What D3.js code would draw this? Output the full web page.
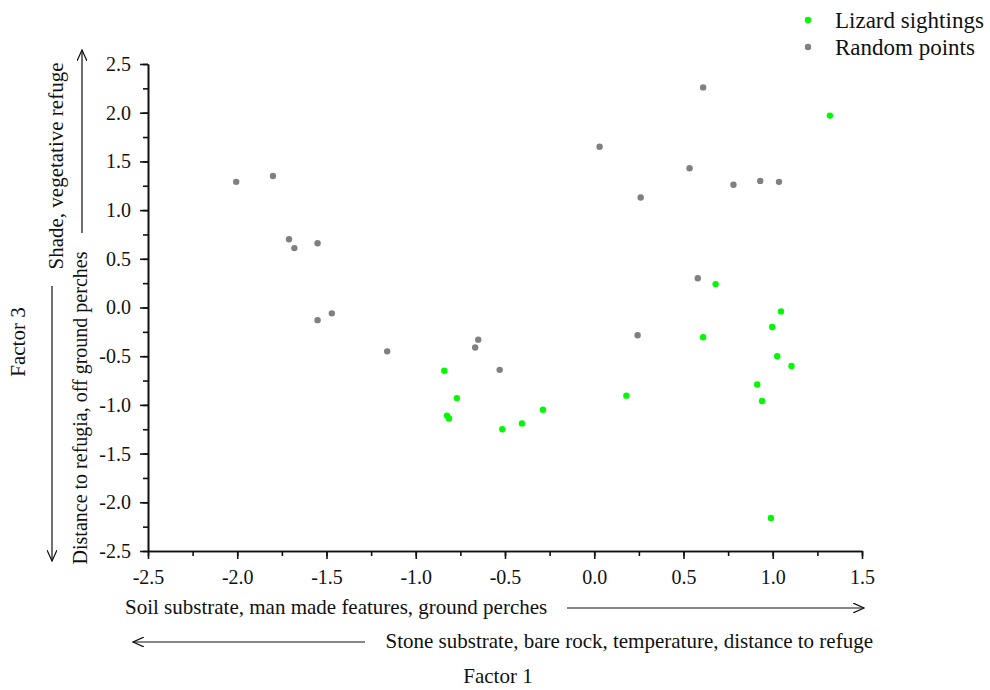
<!DOCTYPE html>
<meta charset="utf-8">
<style>
body { margin: 0; background: #fff; }
text { font-family: "Liberation Serif", "Times New Roman", serif; fill: #111; }
.axis path, .axis line { stroke: #111; stroke-width: 1.6px; }
.axis text { font-size: 20px; }
.lbl { font-size: 21px; }
</style>
<svg width="990" height="690"></svg>
<script src="https://cdn.jsdelivr.net/npm/d3@7"></script>
<script>

// Factor 1 (x), Factor 3 (y)
var lizardX = [1.32, 0.68, -0.84, -0.77, -0.825, -0.814, -0.515, -0.405, -0.287, 0.18, 0.61, 1.046, 0.997, 1.025, 1.105, 0.913, 0.94, 0.99];
var lizardY = [1.97, 0.24, -0.65, -0.93, -1.11, -1.14, -1.25, -1.19, -1.05, -0.905, -0.306, -0.04, -0.20, -0.50, -0.60, -0.79, -0.96, -2.16];

var randomX = [-2.006, -1.80, -1.71, -1.68, -1.55, -1.55, -1.47, -1.16, -0.65, -0.667, -0.53, 0.61, 0.03, 0.534, 0.26, 0.78, 0.93, 1.035, 0.58, 0.243];
var randomY = [1.29, 1.35, 0.70, 0.61, 0.66, -0.13, -0.06, -0.45, -0.33, -0.41, -0.64, 2.26, 1.65, 1.43, 1.13, 1.26, 1.30, 1.29, 0.30, -0.285];

var xTicks = [-2.5, -2.0, -1.5, -1.0, -0.5, 0.0, 0.5, 1.0, 1.5];
var yTicks = [-2.5, -2.0, -1.5, -1.0, -0.5, 0.0, 0.5, 1.0, 1.5, 2.0, 2.5];

var series = [
  {name: "Lizard sightings", xs: lizardX, ys: lizardY, color: "#00fa00"},
  {name: "Random points", xs: randomX, ys: randomY, color: "#808080"}
];

var svg = d3.select("svg");

var x = d3.scaleLinear().domain([-2.5, 1.5]).range([148, 862]);
var y = d3.scaleLinear().domain([-2.5, 2.5]).range([551, 64]);

var fmt = function(d) { return d.toFixed(1); };
var minorX = d3.range(-2.5, 1.51, 0.25);
var minorY = d3.range(-2.5, 2.51, 0.25);

// minor ticks
svg.append("g").attr("class", "axis").attr("transform", "translate(0," + y(-2.5) + ")")
  .call(d3.axisBottom(x).tickValues(minorX).tickSize(5).tickFormat("").tickSizeOuter(0));
svg.append("g").attr("class", "axis").attr("transform", "translate(" + x(-2.5) + ",0)")
  .call(d3.axisLeft(y).tickValues(minorY).tickSize(5).tickFormat("").tickSizeOuter(0));

// major ticks + labels
svg.append("g").attr("class", "axis").attr("transform", "translate(0," + y(-2.5) + ")")
  .call(d3.axisBottom(x).tickValues(xTicks).tickSize(8).tickPadding(11).tickFormat(fmt).tickSizeOuter(0))
  .selectAll("text").attr("fill", "#111");
svg.append("g").attr("class", "axis").attr("transform", "translate(" + x(-2.5) + ",0)")
  .call(d3.axisLeft(y).tickValues(yTicks).tickSize(8).tickPadding(9).tickFormat(fmt).tickSizeOuter(0))
  .selectAll("text").attr("fill", "#111");

// points
series.forEach(function(s) {
  svg.append("g").selectAll("circle")
    .data(d3.range(s.xs.length))
    .enter().append("circle")
      .attr("cx", function(i) { return x(s.xs[i]); })
      .attr("cy", function(i) { return y(s.ys[i]); })
      .attr("r", 3.2)
      .attr("fill", s.color);
});

// legend
var legend = svg.append("g").attr("transform", "translate(808,20)");
series.forEach(function(s, i) {
  legend.append("circle").attr("cx", 0).attr("cy", i * 27).attr("r", 3.2).attr("fill", s.color);
  legend.append("text").attr("class", "lbl").attr("x", 27).attr("y", i * 27 + 7.5)
    .style("font-size", "23px").text(s.name);
});

// arrows
svg.append("defs").append("marker")
    .attr("id", "arr").attr("viewBox", "0 0 12 10").attr("refX", 11).attr("refY", 5)
    .attr("markerWidth", 12).attr("markerHeight", 10).attr("markerUnits", "userSpaceOnUse")
    .attr("orient", "auto")
  .append("path").attr("d", "M0,0 L11,5 L0,10").attr("fill", "none").attr("stroke", "#111").attr("stroke-width", 1.2);

function arrow(x1, y1, x2, y2) {
  svg.append("line").attr("x1", x1).attr("y1", y1).attr("x2", x2).attr("y2", y2)
    .attr("stroke", "#111").attr("stroke-width", 1.2).attr("marker-end", "url(#arr)");
}
arrow(567, 608, 864, 608);
arrow(365, 642, 133, 642);
arrow(82, 233, 82, 50);
arrow(52, 286, 52, 561);

// axis texts
svg.append("text").attr("class", "lbl").attr("x", 125).attr("y", 614).text("Soil substrate, man made features, ground perches");
svg.append("text").attr("class", "lbl").attr("x", 873).attr("y", 648).attr("text-anchor", "end").text("Stone substrate, bare rock, temperature, distance to refuge");
svg.append("text").attr("class", "lbl").attr("x", 498).attr("y", 683).attr("text-anchor", "middle").text("Factor 1");

svg.append("text").attr("class", "lbl").attr("transform", "translate(63,166) rotate(-90)")
  .attr("text-anchor", "middle").text("Shade, vegetative refuge");
svg.append("text").attr("class", "lbl").attr("transform", "translate(87,408) rotate(-90)")
  .attr("text-anchor", "middle").style("font-size", "20px").text("Distance to refugia, off ground perches");
svg.append("text").attr("class", "lbl").attr("transform", "translate(25,342) rotate(-90)")
  .attr("text-anchor", "middle").text("Factor 3");

</script>
